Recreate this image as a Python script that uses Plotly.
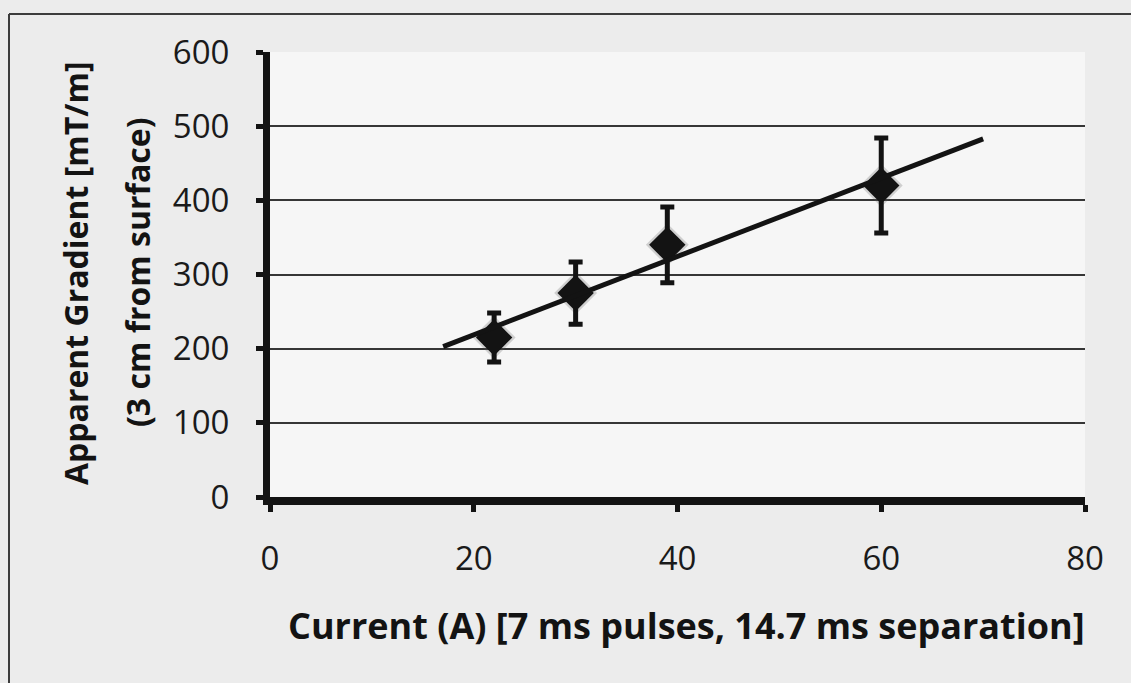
import numpy as np
import plotly.graph_objects as go

# Measured apparent gradient vs. coil current
current_a = [22, 30, 39, 60]
gradient_mt_m = [215, 275, 340, 420]
gradient_err = [33, 42, 51, 64]

x_ticks = [0, 20, 40, 60, 80]
y_ticks = [0, 100, 200, 300, 400, 500, 600]

# Linear trendline, extended 5 A backward and 10 A forward
trend_back, trend_forward = 5, 10
slope, intercept = np.polyfit(current_a, gradient_mt_m, 1)
trend_x = np.array([min(current_a) - trend_back, max(current_a) + trend_forward])
trend_y = slope * trend_x + intercept

W, H = 1131, 683
ML, MR, MT, MB = 270, 46, 52, 186
PW, PH = W - ML - MR, H - MT - MB


def px_x(p):
    return (p - ML) / PW


def px_y(p):
    return (H - MB - p) / PH


FONT = "Open Sans"
INK = "#131313"

fig = go.Figure()

# soft shadow under the markers
fig.add_trace(go.Scatter(
    x=current_a, y=gradient_mt_m, mode="markers",
    marker=dict(symbol="diamond", size=33, color="rgba(90,90,90,0.25)", line=dict(width=0)),
    hoverinfo="skip", showlegend=False,
))

fig.add_trace(go.Scatter(
    x=current_a, y=gradient_mt_m, mode="markers",
    marker=dict(symbol="diamond", size=28, color=INK, line=dict(width=0)),
    error_y=dict(type="data", array=gradient_err, visible=True,
                 color=INK, thickness=5, width=7),
    showlegend=False,
))

fig.add_trace(go.Scatter(
    x=trend_x, y=trend_y, mode="lines",
    line=dict(color=INK, width=5),
    showlegend=False,
))

fig.update_layout(
    width=W, height=H,
    margin=dict(l=ML, r=MR, t=MT, b=MB),
    paper_bgcolor="#ececec",
    plot_bgcolor="#f6f6f6",
    font=dict(family=FONT, color="#1a1a1a"),
    xaxis=dict(
        range=[0, 80], tickvals=x_ticks, ticktext=[str(v) for v in x_ticks],
        showgrid=False, zeroline=False,
        showline=True, linecolor=INK, linewidth=8,
        ticks="outside", ticklen=7, tickwidth=5, tickcolor=INK,
        tickfont=dict(family=FONT, size=33, color="#1a1a1a"),
        ticklabelstandoff=18,
    ),
    yaxis=dict(
        range=[0, 600], tickvals=y_ticks, ticktext=[str(v) for v in y_ticks],
        showgrid=True, gridcolor="#363636", gridwidth=2,
        zeroline=False,
        showline=True, linecolor=INK, linewidth=7,
        ticks="outside", ticklen=7, tickwidth=5, tickcolor=INK,
        tickfont=dict(family=FONT, size=33, color="#1a1a1a"),
        ticklabelstandoff=20,
    ),
    annotations=[
        dict(text="Current (A) [7 ms pulses, 14.7 ms separation]",
             x=px_x(686), y=px_y(625), xref="paper", yref="paper",
             xanchor="center", yanchor="middle", showarrow=False,
             font=dict(family=FONT, size=36, color=INK, weight="bold")),
        dict(text="Apparent Gradient [mT/m]",
             x=px_x(75), y=px_y(273), xref="paper", yref="paper",
             xanchor="center", yanchor="middle", showarrow=False, textangle=-90,
             font=dict(family=FONT, size=32, color=INK, weight="bold")),
        dict(text="(3 cm from surface)",
             x=px_x(137), y=px_y(272), xref="paper", yref="paper",
             xanchor="center", yanchor="middle", showarrow=False, textangle=-90,
             font=dict(family=FONT, size=32, color=INK, weight="bold")),
    ],
    shapes=[
        dict(type="line", xref="paper", yref="paper",
             x0=px_x(9), x1=px_x(9), y0=px_y(14), y1=px_y(H),
             line=dict(color="#3c3c3c", width=2)),
        dict(type="line", xref="paper", yref="paper",
             x0=px_x(9), x1=px_x(W), y0=px_y(14), y1=px_y(14),
             line=dict(color="#3c3c3c", width=2)),
    ],
)

fig.write_html("out.html")
